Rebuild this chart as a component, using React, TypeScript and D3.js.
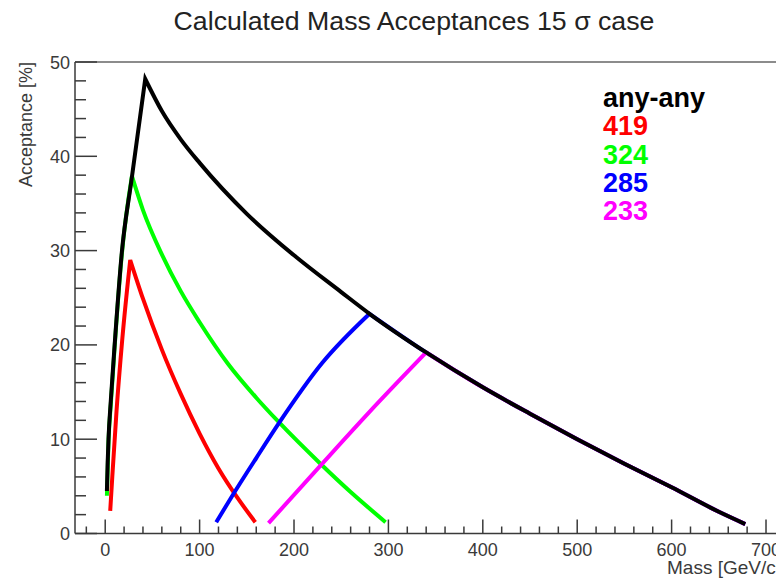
import React from "react";
import * as d3 from "d3";

// ---- data ----
const blackMass = [1.8, 2.6, 3.5, 6, 10, 17.5, 28, 42.4, 60, 80, 100, 150, 200, 250, 280, 340, 400, 450, 500, 550, 600, 650, 678];
const blackAcc = [4.5, 7.5, 10, 14.2, 20.0, 29.7, 37.6, 48.2, 44.8, 41.8, 39.3, 33.9, 29.5, 25.6, 23.3, 19.2, 15.5, 12.7, 10.0, 7.4, 4.9, 2.3, 1.0];

const redMass = [5.3, 7.5, 12, 18, 26.5, 40, 60, 80, 100, 120, 140, 159];
const redAcc = [2.4, 6.0, 13.0, 20.5, 29.0, 24.9, 19.5, 14.8, 10.6, 6.9, 3.8, 1.2];

const greenMass = [1.8, 3.5, 6, 10, 17.5, 28.3, 40, 60, 80, 100, 130, 160, 184, 228, 260, 297];
const greenAcc = [4.0, 9.8, 13.8, 19.8, 29.5, 37.9, 34.3, 29.6, 25.7, 22.4, 18.0, 14.4, 11.8, 7.4, 4.4, 1.2];

const blueMass = [117.6, 134, 160, 184, 230, 280];
const blueAcc = [1.2, 3.9, 8.0, 11.7, 18.1, 23.3];

const magentaMass = [173, 228, 280, 340];
const magentaAcc = [1.1, 7.2, 12.9, 19.2];

const legendLabels = ["any-any", "419", "324", "285", "233"];
const legendColors = ["#000000", "#ff0000", "#00ff00", "#0000ff", "#ff00ff"];

const xMajorTicks = [0, 100, 200, 300, 400, 500, 600, 700];
const yMajorTicks = [0, 10, 20, 30, 40, 50];

const title = "Calculated Mass Acceptances 15 σ case";
const yTitle = "Acceptance [%]";

type Pt = [number, number];
const zip = (m: number[], a: number[]): Pt[] => m.map((v, i) => [v, a[i]]);

// colored curves that join the envelope continue along it
const blackTailAfter = (mass: number): Pt[] =>
  zip(blackMass, blackAcc).filter((p) => p[0] > mass + 1);

export default function App() {
  const W = 776;
  const H = 580;
  const x = d3.scaleLinear().domain([-32, 740]).range([75, 75 + 772 * 0.944]);
  const y = d3.scaleLinear().domain([0, 50]).range([533.5, 62]);

  const smooth = d3
    .line<Pt>()
    .x((d) => x(d[0]))
    .y((d) => y(d[1]))
    .curve(d3.curveMonotoneX);

  // rise and fall drawn smooth, with a sharp corner at the peak
  const pathFor = (pts: Pt[]): string => {
    let k = 0;
    pts.forEach((p, i) => {
      if (p[1] > pts[k][1]) k = i;
    });
    const d1 = smooth(pts.slice(0, k + 1)) || "";
    const d2 = smooth(pts.slice(k)) || "";
    return d1 + d2.replace(/^M[^A-Za-z]*/, "");
  };

  const series: { pts: Pt[]; color: string }[] = [
    { pts: zip(redMass, redAcc), color: "#ff0000" },
    { pts: zip(greenMass, greenAcc), color: "#00ff00" },
    { pts: [...zip(blueMass, blueAcc), ...blackTailAfter(280)], color: "#0000ff" },
    { pts: [...zip(magentaMass, magentaAcc), ...blackTailAfter(340)], color: "#ff00ff" },
    { pts: zip(blackMass, blackAcc), color: "#000000" },
  ];

  const xMinor = d3.range(-20, 741, 20).filter((v) => v % 100 !== 0);
  const yMinor = d3.range(0, 51, 2).filter((v) => v % 10 !== 0);

  const axisColor = "#3a3a3a";
  const font = "'Liberation Sans', Arial, Helvetica, sans-serif";
  const x0 = x(-32);
  const y0 = y(0);
  const xEnd = x(740);

  return (
    <div style={{ position: "absolute", left: 0, top: 0 }}>
      <svg width={W} height={H} style={{ display: "block", background: "#fff" }} fontFamily={font}>
        <rect x={0} y={0} width={W} height={H} fill="#fff" />
        {/* frame */}
        <line x1={x0} x2={xEnd} y1={y(50)} y2={y(50)} stroke="#666" strokeWidth={1.5} />
        <line x1={x0} x2={x0} y1={y(50)} y2={y0} stroke={axisColor} strokeWidth={1.5} />
        <line x1={x0} x2={xEnd} y1={y0} y2={y0} stroke={axisColor} strokeWidth={1.5} />
        {/* y ticks */}
        {yMajorTicks.map((v) => (
          <g key={"ym" + v}>
            <line x1={x0} x2={x0 + 22} y1={y(v)} y2={y(v)} stroke={axisColor} strokeWidth={1.5} />
            <text x={70} y={y(v) + 6.5} textAnchor="end" fontSize={18} fill={axisColor}>
              {v}
            </text>
          </g>
        ))}
        {yMinor.map((v) => (
          <line key={"yn" + v} x1={x0} x2={x0 + 11} y1={y(v)} y2={y(v)} stroke={axisColor} strokeWidth={1.5} />
        ))}
        {/* x ticks */}
        {xMajorTicks.map((v) => (
          <g key={"xm" + v}>
            <line x1={x(v)} x2={x(v)} y1={y0} y2={y0 - 14} stroke={axisColor} strokeWidth={1.5} />
            <text x={x(v)} y={555.5} textAnchor="middle" fontSize={18} fill={axisColor}>
              {v}
            </text>
          </g>
        ))}
        {xMinor.map((v) => (
          <line key={"xn" + v} x1={x(v)} x2={x(v)} y1={y0} y2={y0 - 7} stroke={axisColor} strokeWidth={1.5} />
        ))}
        {/* axis titles */}
        <text transform={`translate(31.5, 62) rotate(-90)`} textAnchor="end" fontSize={18} fill={axisColor}>
          {yTitle}
        </text>
        <text x={667} y={574} fontSize={19} fill={axisColor}>
          Mass [GeV/c<tspan dy={-7} fontSize={12}>2</tspan>
          <tspan dy={7}>]</tspan>
        </text>
        {/* title */}
        <text x={414} y={30} textAnchor="middle" fontSize={26.7} fill="#222">
          {title}
        </text>
        {/* curves */}
        {series.map((s, i) => (
          <path key={i} d={pathFor(s.pts)} fill="none" stroke={s.color} strokeWidth={4} strokeLinejoin="miter" />
        ))}
        {/* legend */}
        {legendLabels.map((l, i) => (
          <text
            key={l}
            x={603}
            y={107 + i * 28.3}
            fontSize={27}
            fontWeight="bold"
            fill={legendColors[i]}
          >
            {l}
          </text>
        ))}
      </svg>
    </div>
  );
}
